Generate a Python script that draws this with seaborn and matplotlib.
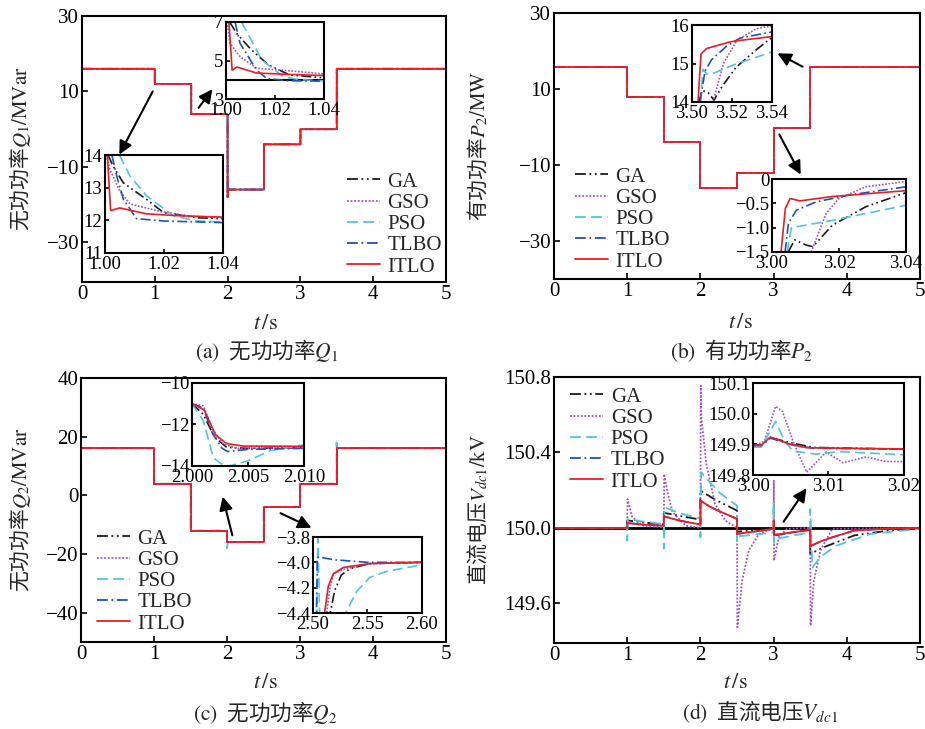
import matplotlib
matplotlib.use('Agg')
import matplotlib.pyplot as plt
import seaborn as sns
from matplotlib.patches import FancyArrowPatch

sns.set_style('ticks')
plt.rcParams['font.family'] = ['Liberation Serif', 'Noto Sans CJK SC']
plt.rcParams['mathtext.fontset'] = 'stix'
plt.rcParams['axes.unicode_minus'] = True

W, H = 925, 729
CJK = 'Noto Sans CJK SC'

methods = ['GA', 'GSO', 'PSO', 'TLBO', 'ITLO']
colors = {'GA': '#1a1a1a', 'GSO': '#a24fc8', 'PSO': '#4fc6dc',
          'TLBO': '#1f52b4', 'ITLO': '#ee1c25'}
styles = {'GA': (0, (6, 2, 1, 2, 1, 2)), 'GSO': (0, (1, 1)),
          'PSO': (0, (6, 3)), 'TLBO': (0, (6, 2, 1, 2)), 'ITLO': '-'}

# ---------------- (a) reactive power Q1 ----------------
q1_t = [0, 1.0, 1.0, 1.5, 1.5, 2.0, 2.0, 2.01, 2.5, 2.5, 3.0, 3.0, 3.5, 3.5, 5.0]
q1_v = [16, 16, 12, 12, 4, 4, -18, -16, -16, -4, -4, 0, 0, 16, 16]
q1_ref_zoom = 4.0
q1_zoom_up = {
    'GA': ([1.0015, 1.0044, 1.010, 1.0173, 1.026, 1.04], [7.0, 6.4, 5.6, 4.77, 4.25, 4.1]),
    'GSO': ([1.0005, 1.0016, 1.0057, 1.0125, 1.030, 1.04], [7.0, 5.9, 5.2, 4.6, 4.42, 4.3]),
    'PSO': ([1.0064, 1.0146, 1.0234, 1.030, 1.04], [7.0, 5.03, 4.16, 4.0, 3.95]),
    'TLBO': ([1.0037, 1.0057, 1.0125, 1.0166, 1.025, 1.04], [7.0, 5.9, 4.5, 4.07, 3.95, 3.93]),
    'ITLO': ([1.0012, 1.0025, 1.0045, 1.0125, 1.025, 1.04], [7.0, 4.5, 4.66, 4.35, 4.28, 4.22]),
}
q1_zoom_low = {
    'GA': ([1.001, 1.0028, 1.0062, 1.0141, 1.0198, 1.031, 1.04], [14, 13.65, 13.15, 12.64, 12.24, 12.08, 12.05]),
    'GSO': ([1.0003, 1.0017, 1.005, 1.0085, 1.013, 1.0198, 1.03, 1.04], [14, 13.55, 12.9, 12.5, 12.4, 12.25, 12.12, 12.08]),
    'PSO': ([1.0049, 1.0085, 1.0141, 1.0232, 1.031, 1.04], [14, 13.35, 12.75, 12.14, 11.98, 11.95]),
    'TLBO': ([1.0023, 1.004, 1.0062, 1.0107, 1.0198, 1.04], [14, 13.35, 12.65, 12.05, 11.98, 11.93]),
    'ITLO': ([1.0008, 1.0019, 1.005, 1.014, 1.025, 1.04], [14, 12.3, 12.38, 12.2, 12.14, 12.1]),
}

# ---------------- (b) active power P2 ----------------
p2_t = [0, 1, 1, 1.5, 1.5, 2, 2, 2.5, 2.5, 3, 3, 3.5, 3.5, 5]
p2_v = [15.8, 15.8, 8, 8, -4, -4, -16, -16, -12, -12, -0.2, -0.2, 15.8, 15.8]
p2_zoom_up = {
    'GA': ([3.5035, 3.505, 3.508, 3.511, 3.515, 3.522, 3.532, 3.54], [14.0, 14.3, 14.25, 14.05, 14.4, 14.9, 15.35, 15.68]),
    'GSO': ([3.5105, 3.5157, 3.5224, 3.532, 3.54], [14, 15.0, 15.6, 15.9, 15.98]),
    'PSO': ([3.5043, 3.5055, 3.5075, 3.511, 3.520, 3.54], [14, 14.85, 14.72, 14.75, 14.95, 15.3]),
    'TLBO': ([3.5040, 3.5065, 3.5098, 3.5173, 3.524, 3.54], [14, 14.8, 15.1, 15.45, 15.66, 15.82]),
    'ITLO': ([3.5030, 3.5045, 3.5073, 3.519, 3.524, 3.54], [14, 15.25, 15.39, 15.56, 15.6, 15.7]),
}
p2_zoom_low = {
    'GA': ([3.0048, 3.0068, 3.0103, 3.0122, 3.018, 3.028, 3.04], [-1.5, -1.25, -1.36, -1.39, -0.95, -0.57, -0.28]),
    'GSO': ([3.0117, 3.0162, 3.020, 3.028, 3.04], [-1.5, -0.7, -0.4, -0.16, -0.05]),
    'PSO': ([3.0045, 3.0058, 3.0083, 3.018, 3.04], [-1.5, -1.0, -0.97, -0.85, -0.54]),
    'TLBO': ([3.0039, 3.0049, 3.0073, 3.0132, 3.023, 3.04], [-1.5, -0.91, -0.64, -0.47, -0.33, -0.16]),
    'ITLO': ([3.0027, 3.0040, 3.0054, 3.0083, 3.018, 3.04], [-1.5, -0.6, -0.4, -0.45, -0.36, -0.24]),
}

# ---------------- (c) reactive power Q2 ----------------
q2_t = [0, 1, 1, 1.5, 1.5, 2, 2, 2.5, 2.5, 3, 3, 3.5, 3.5, 5]
q2_v = [16, 16, 4, 4, -12, -12, -16, -16, -4, -4, 4, 4, 16, 16]
q2_pso_t = [0, 1, 1, 1.5, 1.5, 2, 2, 2.01, 2.5, 2.5, 3, 3, 3.5, 3.5, 3.51, 5]
q2_pso_v = [16, 16, 4, 4, -12, -12, -18, -16, -16, -4, -4, 4, 4, 18, 16, 16]
q2_zoom_up = {
    'GA': ([2.000, 2.0010, 2.0020, 2.0031, 2.0050, 2.010], [-11.0, -11.5, -12.6, -13.1, -13.15, -13.12]),
    'GSO': ([2.000, 2.0010, 2.0018, 2.0028, 2.0040, 2.010], [-11.0, -11.1, -12.2, -12.95, -13.15, -13.12]),
    'PSO': ([2.000, 2.0010, 2.0019, 2.0030, 2.0049, 2.007, 2.010], [-11.0, -11.8, -13.6, -14.05, -13.77, -13.26, -12.98]),
    'TLBO': ([2.000, 2.0010, 2.0018, 2.0027, 2.0032, 2.005, 2.010], [-11.0, -11.2, -12.4, -13.15, -13.3, -13.2, -13.15]),
    'ITLO': ([2.000, 2.0011, 2.0021, 2.0031, 2.0046, 2.010], [-11.0, -11.3, -12.5, -12.92, -13.04, -13.05]),
}
q2_zoom_low = {
    'GA': ([2.5135, 2.520, 2.526, 2.534, 2.552, 2.60], [-4.5, -4.22, -4.1, -4.05, -4.01, -4.0]),
    'GSO': ([2.511, 2.5155, 2.519, 2.530, 2.552, 2.60], [-4.5, -4.2, -4.09, -4.05, -4.01, -4.0]),
    'PSO': ([2.503, 2.5045, 2.507, 2.527, 2.540, 2.552, 2.568, 2.60], [-4.8, -3.75, -4.8, -4.45, -4.23, -4.12, -4.07, -4.02]),
    'TLBO': ([2.5030, 2.5040, 2.5060, 2.520, 2.550, 2.60], [-4.5, -3.96, -3.96, -3.98, -4.0, -4.0]),
    'ITLO': ([2.5090, 2.514, 2.5186, 2.528, 2.552, 2.60], [-4.5, -4.19, -4.09, -4.04, -4.01, -4.0]),
}

# ---------------- (d) DC voltage Vdc1 ----------------
vdc_ref = 150.0
vdc_main = {
    'GA': ([0, 1, 1, 1.2, 1.5, 1.5, 1.7, 2, 2, 2.2, 2.5, 2.5, 3, 3, 3.5, 3.5, 3.7, 4.1, 4.55, 5],
           [150, 150, 150.04, 150.03, 150.018, 150.08, 150.065, 150.044, 150.198, 150.15, 150.092,
            149.98, 149.998, 149.96, 149.99, 149.862, 149.9, 149.96, 149.985, 150.0]),
    'GSO': ([0, 1, 1.005, 1.07, 1.22, 1.5, 1.505, 1.55, 1.62, 1.8, 2.0, 2.005, 2.01, 2.08, 2.2, 2.34,
             2.5, 2.505, 2.57, 2.66, 2.8, 3.0, 3.003, 3.006, 3.07, 3.18, 3.5, 3.505, 3.55, 3.64, 3.8, 5],
            [150, 150, 150.153, 150.056, 150.012, 150.003, 150.286, 150.19, 150.083, 150.012, 150.0,
             150.754, 150.6, 150.34, 150.127, 150.039, 150.0, 149.474, 149.72, 149.88, 149.968, 150.0,
             150.25, 149.827, 149.95, 149.995, 150.0, 149.482, 149.72, 149.88, 149.995, 150.0]),
    'PSO': ([0, 1, 1, 1.01, 1.2, 1.5, 1.5, 1.51, 1.7, 2, 2, 2.01, 2.25, 2.5, 2.5, 2.51, 3, 3, 3.003,
             3.01, 3.5, 3.5, 3.53, 3.65, 3.86, 4.32, 5],
            [150, 150, 149.933, 150.048, 150.035, 150.02, 149.89, 150.11, 150.08, 150.05, 149.95,
             150.295, 150.19, 150.118, 149.93, 149.955, 149.975, 150.136, 149.92, 149.94, 149.977,
             150.1, 149.79, 149.85, 149.906, 149.968, 149.995]),
    'TLBO': ([0, 1, 1, 1.2, 1.5, 1.5, 1.7, 2, 2, 2.12, 2.25, 2.5, 2.5, 3, 3.01, 3.5, 3.5, 3.65, 3.8, 4.1, 4.55, 5],
             [150, 150, 150.026, 150.018, 150.012, 150.062, 150.04, 150.018, 150.145, 150.115, 150.09,
              150.048, 149.968, 149.995, 149.963, 149.99, 149.903, 149.93, 149.95, 149.986, 149.996, 150.0]),
    'ITLO': ([0, 1, 1, 1.2, 1.5, 1.5, 1.7, 2, 2, 2.12, 2.25, 2.5, 2.5, 3, 3, 3.01, 3.5, 3.5, 3.65, 3.8, 4.1, 4.55, 5],
             [150, 150, 150.026, 150.018, 150.012, 150.062, 150.04, 150.018, 150.145, 150.115, 150.09,
              150.048, 149.968, 149.995, 150.04, 149.963, 149.99, 149.903, 149.93, 149.95, 149.986,
              149.996, 150.0]),
}
vdc_zoom = {
    'GA': ([3.000, 3.0011, 3.0023, 3.005, 3.008, 3.02], [149.897, 149.897, 149.922, 149.905, 149.89, 149.884]),
    'GSO': ([3.000, 3.0015, 3.0030, 3.0039, 3.0053, 3.0071, 3.0097, 3.0119, 3.015, 3.0176, 3.02],
            [149.893, 149.91, 150.024, 150.007, 149.91, 149.809, 149.875, 149.84, 149.859, 149.844, 149.844]),
    'PSO': ([3.000, 3.0011, 3.0030, 3.0042, 3.0053, 3.0084, 3.0115, 3.02],
            [149.891, 149.891, 149.975, 149.91, 149.878, 149.868, 149.876, 149.866]),
    'TLBO': ([3.000, 3.0011, 3.0023, 3.005, 3.008, 3.02], [149.896, 149.896, 149.92, 149.9, 149.887, 149.884]),
    'ITLO': ([3.000, 3.0011, 3.0023, 3.0049, 3.0071, 3.02], [149.897, 149.897, 149.924, 149.9, 149.889, 149.885]),
}


def fmt(v, d):
    return f'{v:.{d}f}'.replace('-', '\u2212')


def px_axes(fig, x0, y0, x1, y1):
    return fig.add_axes([x0 / W, 1 - y1 / H, (x1 - x0) / W, (y1 - y0) / H])


def style_axes(ax, size, lw=1.5, length=4):
    for s in ax.spines.values():
        s.set_linewidth(lw)
        s.set_color('k')
    ax.tick_params(direction='in', length=length, width=1.2, labelsize=size,
                   top=False, right=False, pad=2, colors='k')


def draw(ax, curves, lw=1.2, label=False):
    for m in methods:
        t, v = curves[m]
        sns.lineplot(x=t, y=v, ax=ax, color=colors[m], linestyle=styles[m], lw=lw,
                     sort=False, estimator=None, label=m if label else None, legend=False)


def main_axes(fig, box, ylim, yticks, ylabels, ylab_text, ylab_x, xlab_pos, cap_pos, caption):
    ax = px_axes(fig, *box)
    ax.set_xlim(0, 5)
    ax.set_ylim(*ylim)
    ax.set_xticks([0, 1, 2, 3, 4, 5], labels=['0', '1', '2', '3', '4', '5'])
    ax.set_yticks(yticks, labels=ylabels)
    style_axes(ax, 15)
    ymid = (box[1] + box[3]) / 2
    # CJK font first so the text outside $...$ can show Chinese glyphs
    fig.text(ylab_x / W, 1 - ymid / H, ylab_text, rotation=90, ha='center', va='center',
             fontsize=15, family=CJK)
    fig.text(xlab_pos[0] / W, 1 - xlab_pos[1] / H, '$t\\,/\\mathrm{s}$', ha='center', va='center',
             fontsize=16)
    fig.text(cap_pos[0] / W, 1 - cap_pos[1] / H, caption, ha='center', va='center',
             fontsize=15.5, family=CJK)
    return ax


def inset(fig, box, xlim, xticks, xd, ylim, yticks, yd, curves):
    ax = px_axes(fig, *box)
    ax.set_facecolor('white')
    draw(ax, curves, lw=1.2)
    ax.set_xlim(*xlim)
    ax.set_ylim(*ylim)
    ax.set_xticks(xticks, labels=[fmt(v, xd) for v in xticks])
    ax.set_yticks(yticks, labels=[fmt(v, yd) if v != 0 else '0' for v in yticks])
    style_axes(ax, 13.5, lw=1.5, length=3)
    return ax


def add_legend(ax, x, y):
    ax.legend(loc='upper left', bbox_to_anchor=(x / W, 1 - y / H), bbox_transform=fig.transFigure,
              frameon=False, fontsize=15, handlelength=1.6, handletextpad=0.35,
              labelspacing=0.08, borderpad=0, borderaxespad=0)


def arrow(fig, p0, p1):
    fig.add_artist(FancyArrowPatch((p0[0] / W, 1 - p0[1] / H), (p1[0] / W, 1 - p1[1] / H),
                                   transform=fig.transFigure, arrowstyle='-|>',
                                   mutation_scale=20, lw=1.5, color='k', zorder=10))


fig = plt.figure(figsize=(W / 100, H / 100), dpi=100)

# (a)
ax_a = main_axes(fig, (82, 16, 446, 282), (-40.5, 30), [-30, -10, 10, 30],
                 ['\u221230', '\u221210', '10', '30'], '无功功率$Q_1/\\mathrm{MVar}$', 20,
                 (265, 325), (267, 351), '$\\mathrm{(a)}$  无功功率$Q_1$')
draw(ax_a, {m: (q1_t, q1_v) for m in methods}, lw=1.3, label=True)
add_legend(ax_a, 347, 172)
ia1 = inset(fig, (226, 22, 324, 99), (1.0, 1.04), [1.00, 1.02, 1.04], 2, (3, 7), [3, 5, 7], 0, q1_zoom_up)
ia1.axhline(q1_ref_zoom, color='k', lw=1.5, zorder=0)
inset(fig, (105, 155, 223, 253), (1.0, 1.04), [1.00, 1.02, 1.04], 2, (11, 14), [11, 12, 13, 14], 0, q1_zoom_low)

# (b)
ax_b = main_axes(fig, (554, 13, 920, 279), (-40, 30), [-30, -10, 10, 30],
                 ['\u221230', '\u221210', '10', '30'], '有功功率$P_2/\\mathrm{MW}$', 478,
                 (740, 323), (742, 351), '$\\mathrm{(b)}$  有功功率$P_2$')
draw(ax_b, {m: (p2_t, p2_v) for m in methods}, lw=1.3, label=True)
add_legend(ax_b, 575, 167)
inset(fig, (692, 25, 772, 102), (3.5, 3.54), [3.50, 3.52, 3.54], 2, (14, 16), [14, 15, 16], 0, p2_zoom_up)
inset(fig, (772, 179, 906, 252), (3.0, 3.04), [3.00, 3.02, 3.04], 2, (-1.5, 0), [-1.5, -1.0, -0.5, 0], 1, p2_zoom_low)

# (c)
ax_c = main_axes(fig, (81, 378, 446, 642), (-50, 40), [-40, -20, 0, 20, 40],
                 ['\u221240', '\u221220', '0', '20', '40'], '无功功率$Q_2/\\mathrm{MVar}$', 20,
                 (265, 683), (265, 712), '$\\mathrm{(c)}$  无功功率$Q_2$')
q2_curves = {m: (q2_t, q2_v) for m in methods}
q2_curves['PSO'] = (q2_pso_t, q2_pso_v)
draw(ax_c, q2_curves, lw=1.3, label=True)
add_legend(ax_c, 97, 529)
inset(fig, (192, 383, 304, 466), (2.0, 2.01), [2.000, 2.005, 2.010], 3, (-14, -10), [-14, -12, -10], 0, q2_zoom_up)
inset(fig, (313, 537, 422, 613), (2.5, 2.6), [2.50, 2.55, 2.60], 2, (-4.4, -3.8), [-4.4, -4.2, -4.0, -3.8], 1, q2_zoom_low)

# (d)
ax_d = main_axes(fig, (554, 377, 920, 643), (149.39, 150.8), [149.6, 150.0, 150.4, 150.8],
                 ['149.6', '150.0', '150.4', '150.8'], '直流电压$V_{dc\\mathrm{1}}/\\mathrm{kV}$', 478,
                 (735, 683), (760, 712), '$\\mathrm{(d)}$  直流电压$V_{dc\\mathrm{1}}$')
draw(ax_d, vdc_main, lw=1.3, label=True)
ax_d.axhline(vdc_ref, color='k', lw=2, zorder=1.5)
add_legend(ax_d, 570, 387)
inset(fig, (753, 383, 904, 475), (3.0, 3.02), [3.00, 3.01, 3.02], 2, (149.8, 150.1),
      [149.8, 149.9, 150.0, 150.1], 1, vdc_zoom)

# arrows pointing at the zoomed regions
arrow(fig, (154, 89), (118, 157))
arrow(fig, (197, 110), (214, 87))
arrow(fig, (805, 68), (775, 52))
arrow(fig, (778, 132), (802, 177))
arrow(fig, (233, 538), (222, 494))
arrow(fig, (278, 512), (314, 529))
arrow(fig, (782, 524), (808, 486))

fig.savefig('out.png', dpi=100, facecolor='white')
